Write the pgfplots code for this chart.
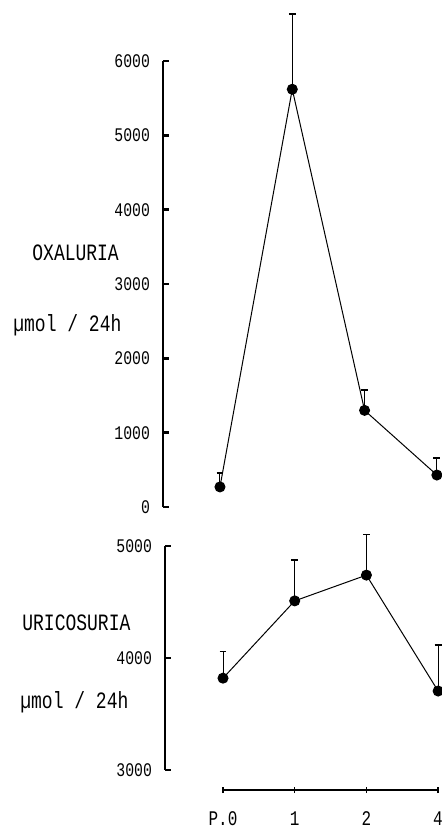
\documentclass[border=0pt]{standalone}
\usepackage{pgfplots}
\pgfplotsset{compat=1.18}
\usepackage{fontspec}
\setmainfont{Liberation Mono}
\setmonofont{Liberation Mono}
\newcommand{\tall}[1]{\scalebox{1}[1.3]{#1}}
\begin{document}
\begin{tikzpicture}[x=1pt,y=1pt]
\pgfplotsset{
 common/.style={
   scale only axis, clip=false,
   axis x line=none, axis y line*=left,
   xtick=\empty,
   tick align=inside,
   major tick length=3pt,
   axis line style={line width=1.4pt},
   every tick/.style={line width=1.2pt, black},
   /pgf/number format/assume math mode=true,
   /pgf/number format/1000 sep={},
   scaled y ticks=false,
   yticklabel={\tall{\pgfmathprintnumber{\tick}}},
   yticklabel style={font=\fontsize{7.4}{8}\selectfont, xshift=-3pt},
 },
 series/.style={black, line width=0.5pt, mark=*, mark size=2.5pt, mark options={solid, fill=black},
   error bars/.cd, y dir=plus, y explicit, error mark=|, error mark options={mark size=1.7pt, line width=0.7pt, black}, error bar style={line width=0.5pt}},
}
\begin{axis}[common, at={(81.5pt,160pt)}, anchor=south west, width=139pt, height=223pt,
  xmin=-0.788, xmax=3.057, ymin=0, ymax=6000, ytick={0,1000,...,6000}]
\addplot[series] coordinates {(0,270) +- (0,190) (1,5620) +- (0,1015) (2,1300) +- (0,275) (3,430) +- (0,230)};
\end{axis}
\begin{axis}[common, at={(82.5pt,28.5pt)}, anchor=south west, width=138pt, height=112pt,
  xmin=-0.809, xmax=3.040, ymin=3000, ymax=5000, ytick={3000,4000,5000}]
\addplot[series] coordinates {(0,3820) +- (0,240) (1,4510) +- (0,365) (2,4740) +- (0,360) (3,3705) +- (0,410)};
\end{axis}
\begin{axis}[at={(111.5pt,18.5pt)}, anchor=south west, scale only axis, width=107.5pt, height=10pt,
  xmin=0, xmax=3, ymin=0, ymax=1, axis x line*=bottom, axis y line=none,
  xtick={0,1,2,3}, xticklabels={\tall{P.0},\tall{1},\tall{2},\tall{4}}, tick align=center, major tick length=3pt,
  every tick/.style={line width=0.8pt, black},
  axis line style={line width=1.4pt},
  xticklabel style={font=\fontsize{8}{9}\selectfont, yshift=-6pt}]
\end{axis}
\node[anchor=west, inner sep=0pt, font=\fontsize{9}{10}\selectfont] at (16pt,287pt) {\tall{OXALURIA}};
\node[anchor=west, inner sep=0pt, font=\fontsize{9}{10}\selectfont] at (6.5pt,251pt) {\tall{µmol / 24h}};
\node[anchor=west, inner sep=0pt, font=\fontsize{9}{10}\selectfont] at (11pt,102pt) {\tall{URICOSURIA}};
\node[anchor=west, inner sep=0pt, font=\fontsize{9}{10}\selectfont] at (10pt,62.5pt) {\tall{µmol / 24h}};
\pgfresetboundingbox
\path[use as bounding box] (0,0) rectangle (220.5pt,413.5pt);
\end{tikzpicture}
\end{document}
